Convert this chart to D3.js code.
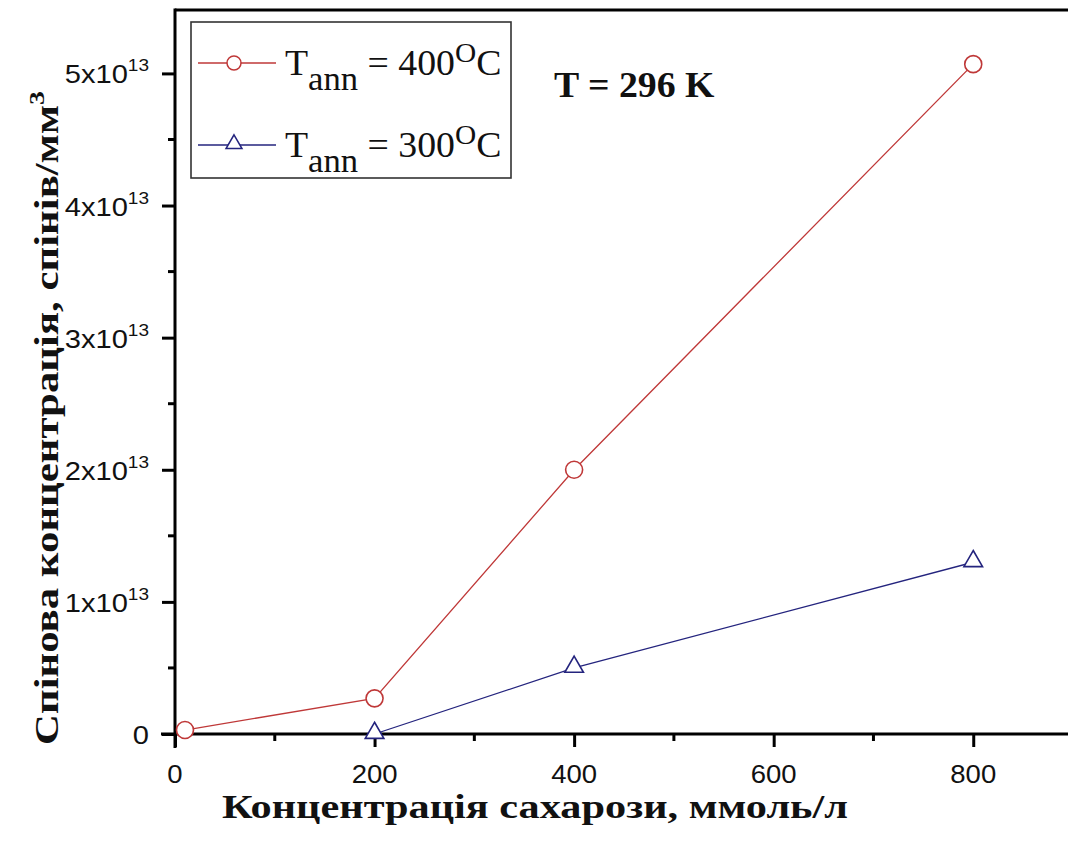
<!DOCTYPE html>
<html>
<head>
<meta charset="utf-8">
<script src="https://cdn.jsdelivr.net/npm/d3@7"></script>
<style>
  html, body { margin: 0; padding: 0; background: #fff; }
  svg { display: block; }
</style>
</head>
<body>
<svg id="chart" width="1068" height="848"></svg>
<script>
// Sucrose concentration, mmol/l
const sucrose400 = [10, 200, 400, 800];
const sucrose300 = [200, 400, 800];
// Spin concentration, spins/mm^3
const spins400 = [0.03e13, 0.27e13, 2.0e13, 5.07e13];
const spins300 = [0.0e13, 0.5e13, 1.3e13];

const xTicks = [0, 200, 400, 600, 800];
const xMinor = [100, 300, 500, 700];
const yTicks = [0, 1e13, 2e13, 3e13, 4e13, 5e13];
const yMinor = [0.5e13, 1.5e13, 2.5e13, 3.5e13, 4.5e13];

const seriesNames = ["400", "300"];

const svg = d3.select("#chart");
const SANS = "'Liberation Sans', Arial, sans-serif";
const SERIF = "'Liberation Serif', 'Times New Roman', serif";
const RED = "#bf3838";
const BLUE = "#24247e";

const plotLeft = 175, plotRight = 1080, plotTop = 10, plotBottom = 734;
const x = d3.scaleLinear().domain([0, 907]).range([plotLeft, plotRight]);
const y = d3.scaleLinear().domain([0, 5.48e13]).range([plotBottom, plotTop]);

// frame: top border
svg.append("line")
  .attr("x1", plotLeft).attr("x2", plotRight).attr("y1", plotTop).attr("y2", plotTop)
  .attr("stroke", "#000").attr("stroke-width", 3);

// bottom axis
const gx = svg.append("g").attr("transform", `translate(0,${plotBottom})`);
gx.call(d3.axisBottom(x).tickValues(xTicks).tickSize(13).tickFormat(() => ""));
gx.call(g => g.select(".domain").remove());
gx.selectAll(".tick line").attr("stroke", "#000").attr("stroke-width", 3);
gx.selectAll(".minor").data(xMinor).join("line")
  .attr("x1", d => x(d)).attr("x2", d => x(d)).attr("y1", 0).attr("y2", 7)
  .attr("stroke", "#000").attr("stroke-width", 3);
gx.append("line").attr("x1", plotLeft - 14).attr("x2", plotRight).attr("y1", 0).attr("y2", 0)
  .attr("stroke", "#000").attr("stroke-width", 3);
gx.selectAll(".xlab").data(xTicks).join("text")
  .attr("transform", d => `translate(${x(d)},49) scale(1.1,1)`)
  .attr("text-anchor", "middle")
  .attr("font-family", SANS).attr("font-size", 25).attr("fill", "#111")
  .text(d => d);

// left axis
const gy = svg.append("g").attr("transform", `translate(${plotLeft},0)`);
gy.call(d3.axisLeft(y).tickValues(yTicks).tickSize(13).tickFormat(() => ""));
gy.call(g => g.select(".domain").remove());
gy.selectAll(".tick line").attr("stroke", "#000").attr("stroke-width", 3);
gy.selectAll(".minor").data(yMinor).join("line")
  .attr("x1", 0).attr("x2", -7).attr("y1", d => y(d)).attr("y2", d => y(d))
  .attr("stroke", "#000").attr("stroke-width", 3);
gy.append("line").attr("x1", 0).attr("x2", 0).attr("y1", plotTop - 1.5).attr("y2", plotBottom + 14)
  .attr("stroke", "#000").attr("stroke-width", 3);

// y tick labels: "Nx10^13" or "0"
yTicks.forEach(v => {
  const t = gy.append("text")
    .attr("transform", `translate(-26,${y(v) + 10}) scale(1.12,1)`)
    .attr("text-anchor", "end")
    .attr("font-family", SANS).attr("font-size", 26).attr("fill", "#111");
  if (v === 0) {
    t.text("0");
  } else {
    t.append("tspan").text(`${Math.round(v / 1e13)}x10`);
    t.append("tspan").attr("font-size", 17).attr("dy", -12).text("13");
  }
});

// series lines and markers
const line = d3.line().x(d => x(d[0])).y(d => y(d[1]));
const pts400 = sucrose400.map((v, i) => [v, spins400[i]]);
const pts300 = sucrose300.map((v, i) => [v, spins300[i]]);

const triangle = d3.symbol().type(d3.symbolTriangle).size(150);

svg.append("path").datum(pts400).attr("d", line)
  .attr("fill", "none").attr("stroke", RED).attr("stroke-width", 1.3);
svg.append("path").datum(pts300).attr("d", line)
  .attr("fill", "none").attr("stroke", BLUE).attr("stroke-width", 1.3);

svg.selectAll(".m400").data(pts400).join("circle")
  .attr("cx", d => x(d[0])).attr("cy", d => y(d[1])).attr("r", 8.5)
  .attr("fill", "#fff").attr("stroke", RED).attr("stroke-width", 1.6);
svg.selectAll(".m300").data(pts300).join("path")
  .attr("transform", d => `translate(${x(d[0])},${y(d[1]) - 1})`)
  .attr("d", triangle)
  .attr("fill", "#fff").attr("stroke", BLUE).attr("stroke-width", 1.6);

// legend
const lg = svg.append("g");
lg.append("rect").attr("x", 191).attr("y", 22).attr("width", 320).attr("height", 156)
  .attr("fill", "#fff").attr("stroke", "#333").attr("stroke-width", 1.6);

const legendRows = [
  { name: seriesNames[0], color: RED, shape: "circle", cy: 63 },
  { name: seriesNames[1], color: BLUE, shape: "triangle", cy: 145 }
];
legendRows.forEach(r => {
  lg.append("line").attr("x1", 198).attr("x2", 276).attr("y1", r.cy).attr("y2", r.cy)
    .attr("stroke", r.color).attr("stroke-width", 1.3);
  if (r.shape === "circle") {
    lg.append("circle").attr("cx", 234).attr("cy", r.cy).attr("r", 7)
      .attr("fill", "#fff").attr("stroke", r.color).attr("stroke-width", 1.5);
  } else {
    lg.append("path").attr("transform", `translate(234,${r.cy - 1})`)
      .attr("d", d3.symbol().type(d3.symbolTriangle).size(110))
      .attr("fill", "#fff").attr("stroke", r.color).attr("stroke-width", 1.5);
  }
  const t = lg.append("text")
    .attr("transform", `translate(285,${r.cy + 12}) scale(1.05,1)`)
    .attr("font-family", SERIF).attr("font-size", 36).attr("fill", "#111");
  t.append("tspan").text("T");
  t.append("tspan").attr("font-size", 33).attr("dy", 15).text("ann");
  t.append("tspan").attr("dy", -15).text(" = " + r.name);
  t.append("tspan").attr("font-size", 28).attr("dy", -13).text("O");
  t.append("tspan").attr("dy", 13).text("C");
});

// temperature annotation
svg.append("text")
  .attr("transform", "translate(554,97) scale(1.05,1)")
  .attr("font-family", SERIF).attr("font-weight", "bold").attr("font-size", 36)
  .attr("fill", "#111").text("T = 296 K");

// axis titles
svg.append("text")
  .attr("x", 535).attr("y", 818).attr("text-anchor", "middle")
  .attr("font-family", SERIF).attr("font-weight", "bold").attr("font-size", 34)
  .attr("fill", "#111")
  .attr("textLength", 626).attr("lengthAdjust", "spacingAndGlyphs")
  .text("Концентрація сахарози, ммоль/л");

const yt = svg.append("text")
  .attr("transform", "translate(58,418) rotate(-90)")
  .attr("text-anchor", "middle")
  .attr("font-family", SERIF).attr("font-weight", "bold").attr("font-size", 34)
  .attr("fill", "#111")
  .attr("textLength", 654).attr("lengthAdjust", "spacingAndGlyphs");
yt.append("tspan").text("Спінова концентрація, спінів/мм");
yt.append("tspan").attr("font-size", 22).attr("dy", -14).text("3");
</script>
</body>
</html>
